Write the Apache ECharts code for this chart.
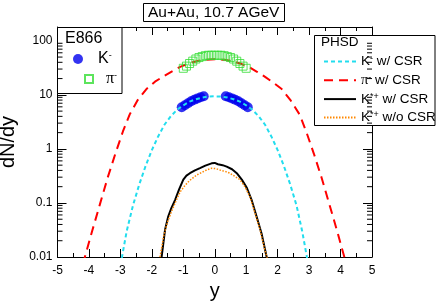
<!DOCTYPE html>
<html>
<head>
<meta charset="utf-8">
<script src="https://cdn.jsdelivr.net/npm/echarts@6/dist/echarts.min.js"></script>
<style>
html,body{margin:0;padding:0;background:#fff;}
#chart{width:436px;height:305px;}
</style>
</head>
<body>
<div id="chart"></div>
<script>
// ---- data ----
var xTickLabels = ['-5','-4','-3','-2','-1','0','1','2','3','4','5'];
var yTickLabels = ['0.01','0.1','1','10','100'];

// E866 K- data points [y, dN/dy]
var kMinusData = [
  [-1.05,5.9],[-0.95,6.4],[-0.85,7.0],[-0.75,7.6],[-0.65,8.1],[-0.55,8.6],[-0.45,9.0],[-0.35,9.4],
  [0.35,9.4],[0.45,9.0],[0.55,8.6],[0.65,8.1],[0.75,7.6],[0.85,7.0],[0.95,6.4],[1.05,5.9]
];
// E866 pi- data points
var piMinusData = [
  [-1.0,31],[-0.9,34],[-0.8,38],[-0.7,42],[-0.6,46],[-0.5,49],[-0.4,51],[-0.3,53],[-0.2,54],[-0.1,54],
  [0.0,54],[0.1,54],[0.2,54],[0.3,53],[0.4,51],[0.5,49],[0.6,46],[0.7,42],[0.8,38],[0.9,34],[1.0,31]
];
// PHSD K- w/ CSR
var kMinusCSR = [
  [-3.1,0.004],[-2.95,0.01],[-2.8,0.03],[-2.6,0.09],[-2.4,0.22],[-2.2,0.48],[-2.0,0.95],[-1.8,1.7],
  [-1.6,2.8],[-1.4,4.0],[-1.2,5.3],[-1.0,6.4],[-0.8,7.5],[-0.6,8.3],[-0.4,8.9],[-0.2,9.3],[0,9.4],
  [0.2,9.3],[0.4,8.9],[0.6,8.3],[0.8,7.5],[1.0,6.4],[1.2,5.3],[1.4,4.0],[1.6,2.8],[1.8,1.7],
  [2.0,0.95],[2.2,0.48],[2.4,0.22],[2.6,0.09],[2.78,0.03],[2.93,0.01],[3.08,0.004]
];
// PHSD pi- w/ CSR
var piMinusCSR = [
  [-4.3,0.004],[-4.13,0.01],[-3.9,0.03],[-3.65,0.095],[-3.4,0.3],[-3.15,0.85],[-2.92,2.1],[-2.7,4.4],
  [-2.45,8.0],[-2.16,13.0],[-1.9,17.5],[-1.64,21.8],[-1.37,27],[-1.1,33],[-0.84,38],[-0.57,42],
  [-0.3,44.5],[0,45.5],[0.3,44.5],[0.57,42],[0.84,37.5],[1.1,32.5],[1.33,27],[1.6,21.5],[1.86,16.8],
  [2.13,12.8],[2.42,7.8],[2.7,4.3],[2.92,2.0],[3.15,0.82],[3.4,0.29],[3.65,0.092],[3.9,0.029],[4.12,0.01],[4.3,0.004]
];
// PHSD K*+ w/ CSR
var kStarCSR = [
  [-1.75,0.006],[-1.69,0.01],[-1.58,0.032],[-1.48,0.056],[-1.38,0.08],[-1.26,0.114],[-1.13,0.18],
  [-1.0,0.27],[-0.9,0.32],[-0.79,0.355],[-0.63,0.40],[-0.47,0.44],[-0.3,0.49],[-0.1,0.54],[0.0,0.55],
  [0.1,0.52],[0.25,0.50],[0.38,0.47],[0.55,0.42],[0.7,0.355],[0.86,0.27],[1.02,0.19],[1.18,0.11],
  [1.33,0.056],[1.49,0.027],[1.65,0.01],[1.72,0.006]
];
// PHSD K*+ w/o CSR
var kStarNoCSR = [
  [-1.8,0.006],[-1.74,0.01],[-1.62,0.025],[-1.5,0.045],[-1.35,0.075],[-1.2,0.12],[-1.1,0.16],
  [-0.95,0.21],[-0.8,0.26],[-0.57,0.33],[-0.4,0.37],[-0.25,0.41],[-0.1,0.44],[0.05,0.43],[0.2,0.40],
  [0.35,0.38],[0.48,0.355],[0.64,0.31],[0.8,0.27],[0.96,0.2],[1.12,0.13],[1.28,0.065],[1.44,0.032],
  [1.6,0.013],[1.66,0.01],[1.72,0.006]
];

// log minor tick positions (2..9 x 10^k)
var minorTicks = [];
[0.01,0.1,1,10,100].forEach(function(d){ for (var m=2;m<=9;m++){ if (d*m<180) minorTicks.push([0, d*m]); } });

var FONT = 'Liberation Sans';
var chart = echarts.init(document.getElementById('chart'), null, {renderer:'canvas'});

function yFmt(v){
  var l = Math.log10(v), r = Math.round(l);
  if (Math.abs(l-r) > 1e-6) return '';
  return yTickLabels[r+2] || '';
}

var supRich = {
  t: {fontFamily: FONT, fontSize: 13.5, color:'#000', lineHeight: 14},
  p: {fontFamily: 'Liberation Serif', fontSize: 14.5, color:'#000', lineHeight: 14},
  s: {fontFamily: FONT, fontSize: 9, color:'#000', lineHeight: 8, verticalAlign:'top'}
};
var bigRich = {
  t: {fontFamily: FONT, fontSize: 16, color:'#000', lineHeight: 16},
  p: {fontFamily: 'Liberation Serif', fontSize: 16, color:'#000', lineHeight: 16, padding: [0,0,0,8]},
  s: {fontFamily: FONT, fontSize: 9, color:'#000', lineHeight: 9, verticalAlign:'top'}
};
var legendText = {
  'K⁻ data': '{t|K}{s|-}',
  'π⁻ data': '{p|π}{s|-}',
  'K⁻ w/ CSR': '{t|K}{s|-}{t| w/ CSR}',
  'π⁻ w/ CSR': '{p|π}{s|-}{t| w/ CSR}',
  'K*+ w/ CSR': '{t|K}{s|*+}{t| w/ CSR}',
  'K*+ w/o CSR': '{t|K}{s|*+}{t| w/o CSR}'
};

var option = {
  animation: false,
  backgroundColor: '#fff',
  title: {
    text: 'Au+Au, 10.7 AGeV',
    left: 143, top: 3,
    padding: [1, 5, 1, 5],
    borderColor: '#000', borderWidth: 1,
    textStyle: {fontFamily: FONT, fontSize: 15.5, fontWeight: 'normal', color: '#000', lineHeight: 17}
  },
  grid: {left: 57.5, right: 64, top: 27, bottom: 48, containLabel: false, outerBoundsMode: 'none'},
  xAxis: [{
    type: 'value', min: -5, max: 5, interval: 1,
    name: 'y', nameLocation: 'middle', nameGap: 24,
    nameTextStyle: {fontFamily: FONT, fontSize: 20, color: '#000'},
    axisLine: {onZero: false, lineStyle: {color: '#000', width: 1}},
    axisTick: {inside: true, length: 8, lineStyle: {color: '#000'}},
    minorTick: {show: true, splitNumber: 2, length: 4, lineStyle: {color: '#000'}},
    splitLine: {show: false},
    axisLabel: {fontFamily: FONT, fontSize: 12, color: '#000', margin: 8,
      formatter: function(v){ return xTickLabels[Math.round(v)+5]; }}
  },{
    type: 'value', min: -5, max: 5, interval: 1, position: 'top',
    axisLine: {onZero: false, lineStyle: {color: '#000', width: 1}},
    axisTick: {inside: true, length: 8, lineStyle: {color: '#000'}},
    minorTick: {show: true, splitNumber: 2, length: 4, lineStyle: {color: '#000'}},
    splitLine: {show: false}, axisLabel: {show: false}
  }],
  yAxis: [{
    type: 'log', logBase: 10, min: 0.01, max: 180, position: 'left',
    name: 'dN/dy', nameLocation: 'middle', nameGap: 28, nameRotate: 90,
    nameTextStyle: {fontFamily: FONT, fontSize: 20, color: '#000'},
    axisLine: {show: true, onZero: false, lineStyle: {color: '#000', width: 1}},
    axisTick: {inside: true, length: 9, lineStyle: {color: '#000'}},
    splitLine: {show: false},
    axisLabel: {fontFamily: FONT, fontSize: 12, color: '#000', margin: 5, formatter: yFmt}
  },{
    type: 'log', logBase: 10, min: 0.01, max: 180, position: 'right',
    axisLine: {show: true, onZero: false, lineStyle: {color: '#000', width: 1}},
    axisTick: {inside: true, length: 9, lineStyle: {color: '#000'}},
    splitLine: {show: false}, axisLabel: {show: false}
  }],
  legend: [{
    data: ['K⁻ data'], orient: 'vertical', left: 68, top: 46, z: 20,
    itemWidth: 30, itemHeight: 10, itemGap: 0,
    formatter: function(n){ return legendText[n]; },
    textStyle: {rich: bigRich}, selectedMode: false
  },{
    data: ['π⁻ data'], orient: 'vertical', left: 79, top: 66, z: 20,
    itemWidth: 8, itemHeight: 8, itemGap: 0,
    formatter: function(n){ return legendText[n]; },
    textStyle: {rich: bigRich}, selectedMode: false
  },{
    data: ['K⁻ w/ CSR','π⁻ w/ CSR','K*+ w/ CSR','K*+ w/o CSR'],
    orient: 'vertical', left: 318, top: 49.5, z: 20,
    itemWidth: 32, itemHeight: 14, itemGap: 4.3,
    itemStyle: {opacity: 0, borderWidth: 0},
    formatter: function(n){ return legendText[n]; },
    textStyle: {rich: supRich}, selectedMode: false
  }],
  graphic: [
    {type: 'rect', z: 5, shape: {x: 57.5, y: 27.5, width: 64.5, height: 66}, style: {fill: '#fff', stroke: '#000', lineWidth: 1}},
    {type: 'text', z: 21, x: 65, y: 31, style: {text: 'E866', fontFamily: FONT, fontSize: 16, fill: '#000'}},
    {type: 'rect', z: 5, shape: {x: 314.5, y: 35.5, width: 120.5, height: 90}, style: {fill: '#fff', stroke: '#000', lineWidth: 1}},
    {type: 'text', z: 21, x: 321, y: 35, style: {text: 'PHSD', fontFamily: FONT, fontSize: 13.5, fill: '#000'}}
  ],
  series: [
    {name: 'π⁻ w/ CSR', type: 'line', data: piMinusCSR, symbol: 'none', smooth: false,
     lineStyle: {color: '#ff0000', width: 2, type: [9, 6]}, itemStyle: {color: '#ff0000'}, z: 3},
    {name: 'K⁻ w/ CSR', type: 'line', data: kMinusCSR, symbol: 'none',
     lineStyle: {color: '#22ddee', width: 2, type: [4, 3]}, itemStyle: {color: '#22ddee'}, z: 3},
    {name: 'K*+ w/ CSR', type: 'line', data: kStarCSR, symbol: 'none',
     lineStyle: {color: '#000', width: 2}, itemStyle: {color: '#000'}, z: 4},
    {name: 'K*+ w/o CSR', type: 'line', data: kStarNoCSR, symbol: 'none',
     lineStyle: {color: '#ff8800', width: 1.5, type: [1.5, 1.5]}, itemStyle: {color: '#ff8800'}, z: 4},
    {name: 'π⁻ data', type: 'scatter', data: piMinusData, symbol: 'rect', symbolSize: 8,
     itemStyle: {color: 'rgba(255,255,255,0)', borderColor: '#33dd33', borderWidth: 1}, z: 5},
    {name: 'K⁻ data', type: 'scatter', data: kMinusData, symbol: 'circle', symbolSize: 10,
     itemStyle: {color: '#0000ee'}, z: 2},
    {type: 'custom', name: 'minorTicks', data: minorTicks, silent: true, clip: false, z: 10,
     renderItem: function(params, api){
       var v = api.value(1);
       var pl = api.coord([-5, v]), pr = api.coord([5, v]);
       return {type: 'group', children: [
         {type: 'line', shape: {x1: pl[0], y1: pl[1], x2: pl[0]+5, y2: pl[1]}, style: {stroke: '#000', lineWidth: 1}},
         {type: 'line', shape: {x1: pr[0], y1: pr[1], x2: pr[0]-5, y2: pr[1]}, style: {stroke: '#000', lineWidth: 1}}
       ]};
     }}
  ]
};
chart.setOption(option);
</script>
</body>
</html>
